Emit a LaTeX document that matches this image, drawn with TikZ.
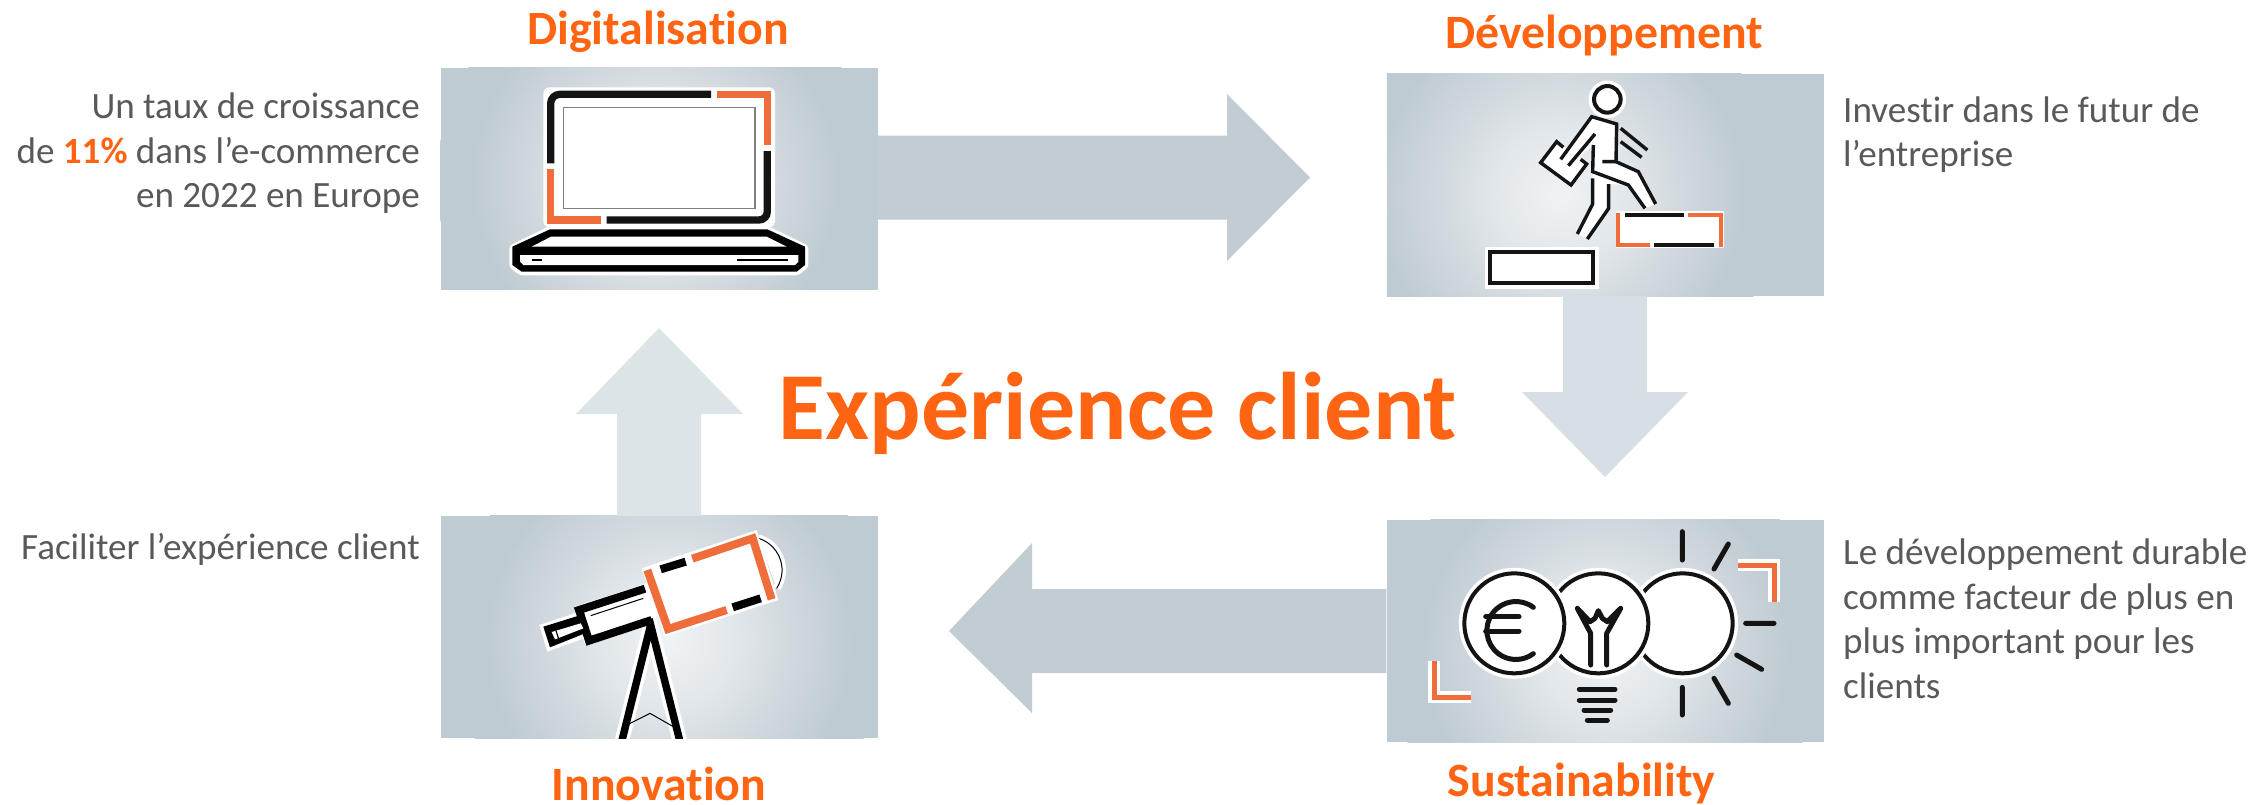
\documentclass[tikz,border=0pt]{standalone}
\usepackage{fontspec}
\setmainfont[Ligatures=NoCommon]{Carlito}
\definecolor{hot}{HTML}{FF6413}
\definecolor{body}{HTML}{595959}
\definecolor{ink}{HTML}{141414}
\definecolor{accent}{HTML}{EE6D3A}
\definecolor{arrowdark}{HTML}{C1CDD3}
\definecolor{arrowmid}{HTML}{D6DFE4}
\definecolor{arrowlight}{HTML}{DDE4E8}
\definecolor{boxin}{HTML}{F0F3F5}
\definecolor{boxa}{HTML}{E2E7EB}
\definecolor{boxb}{HTML}{D1D9DE}
\definecolor{boxout}{HTML}{BFCBD2}
\pgfdeclareradialshading{boxshade}{\pgfpoint{0bp}{0bp}}{color(0bp)=(boxin); color(7.5bp)=(boxa); color(14bp)=(boxb); color(21bp)=(boxout); color(50bp)=(boxout)}
\newcommand\photolight[3]{\begin{scope}\clip (#1.south west) rectangle (#1.north east);\shade[shading=boxshade] ([xshift=#2pt,yshift=#3pt]#1.center) circle[radius=218pt];\end{scope}}
\tikzset{
  photo/.style={shape=rectangle,fill=boxout,inner sep=0pt,minimum width=437pt,minimum height=222pt},
  halo/.style={preaction={draw=white,line width=\pgflinewidth+3.5pt}},
  inkline/.style={draw=ink,line width=4pt,line join=miter},
  ornline/.style={draw=accent,line width=4pt,line join=miter},
  title/.style={inner sep=0pt,anchor=base,text=hot,font=\fontsize{47.8}{52}\selectfont\bfseries},
  note/.style={inner sep=0pt,text=body,font=\fontsize{37.1}{44.5}\selectfont},
}
\begin{document}
\begin{tikzpicture}[x=1pt,y=-1pt]
\useasboundingbox (0,0) rectangle (2254,804);
% boxes
\node[photo] (dig) at (659,178.5) {};
\node[photo] (dev) at (1605.5,185) {};
\node[photo] (inn) at (659,627) {};
\node[photo] (sus) at (1605,631) {};
\photolight{dig}{-4}{-2}
\photolight{dev}{-45}{-10}
\photolight{inn}{10}{-13}
\photolight{sus}{0}{-19}
% free ends of the block arrows
\coordinate (tipR) at (1310,177.5);
\coordinate (tipD) at (1605,477);
\coordinate (tipL) at (949,631);
\coordinate (tipU) at (659,328);
% arrows
\fill[arrowdark] ([yshift=43pt]dig.east) -- (1227,135.5) -- (1227,94) -- (tipR) -- (1227,261) -- (1227,219.5) -- ([yshift=-41pt]dig.east) -- cycle;
\fill[arrowmid] ([xshift=-42.5pt]dev.south) -- (1563,392) -- (1522,392) -- (tipD) -- (1688,392) -- (1647,392) -- ([xshift=41.5pt]dev.south) -- cycle;
\fill[arrowdark] ([yshift=42pt]sus.west) -- (1032,589) -- (1032,543) -- (tipL) -- (1032,713) -- (1032,673) -- ([yshift=-42pt]sus.west) -- cycle;
\fill[arrowlight] ([xshift=-42pt]inn.north) -- (617,414) -- (576,414) -- (tipU) -- (743,414) -- (701,414) -- ([xshift=42pt]inn.north) -- cycle;
% laptop
\begin{scope}[shift={(480,70)},x=0.33333pt,y=-0.33333pt]
 \fill[white,rounded corners=6pt] (190,52) rectangle (885,472);
 \fill[white,rounded corners=3pt] (205,470) -- (868,470) -- (985,527) -- (985,592) -- (955,616) -- (120,616) -- (88,592) -- (88,527) -- cycle;
 \draw[ink,line width=7.3pt] (212,280) -- (212,100) to[out=90,in=180] (240,73) -- (693,73);
 \draw[accent,line width=7.3pt,line join=miter] (710,73) -- (862,73) -- (862,226);
 \draw[ink,line width=7.3pt] (862,243) -- (862,425) to[out=-90,in=0] (837,450) -- (380,450);
 \draw[accent,line width=7.3pt,line join=miter] (212,297) -- (212,450) -- (363,450);
 \draw[draw=black!50,fill=white,line width=1.2pt] (251,113) rectangle (825,416);
 \fill[black] (210,478) -- (862,478) -- (975,530) -- (975,585) -- (950,605) -- (125,605) -- (97,585) -- (97,530) -- cycle;
 \fill[white] (213,500) -- (860,500) -- (920,530) -- (155,530) -- cycle;
 \fill[white] (120,555) -- (955,555) -- (955,575) -- (945,585) -- (130,585) -- (120,575) -- cycle;
 \draw[black,line width=1.3pt] (155,570) -- (185,570) (772,570) -- (925,570);
\end{scope}
% person on steps
\begin{scope}[shift={(1370,0)},x=0.33333pt,y=-0.33333pt]
 \fill[white] (665,350) -- (740,372) -- (738,485) -- (805,515) -- (857,612) -- (825,625) -- (775,555) -- (716,552) -- (716,625) -- (652,717) -- (622,702) -- (668,612) -- (668,515) -- (670,435) -- (595,497) -- (572,478) -- cycle;
 \fill[white] (560,425) -- (512,488) -- (603,555) -- (650,490) -- cycle;
 \draw[inkline,fill=white,halo] (712,298) circle[radius=13.3pt];
 \draw[inkline,line width=3.4pt] (572,478) -- (665,350) -- (740,372) -- (738,485) -- (697,485);
 \draw[inkline,line width=3.4pt] (738,485) -- (805,515) -- (857,612);
 \draw[inkline,line width=3.4pt] (670,435) -- (668,515) -- (775,555) -- (825,625);
 \draw[inkline,line width=3.4pt] (675,402) -- (595,497);
 \draw[inkline,line width=3.4pt] (752,385) -- (832,450) (752,425) -- (815,472);
 \draw[inkline,line width=3.4pt] (668,535) -- (668,612) -- (622,702);
 \draw[inkline,line width=3.4pt] (716,552) -- (716,625) -- (652,717);
 \draw[inkline,line width=3.4pt] (580,442) -- (560,425) -- (512,488) -- (603,555) -- (650,492) -- (632,478);
 \draw[inkline,fill=white,halo] (360,757) rectangle (670,850);
 \fill[white] (737,632) rectangle (1062,745);
 \draw[inkline,line width=3.6pt] (765,645) -- (943,645) (852,735) -- (1033,735);
 \draw[ornline] (955,645) -- (1052,645) -- (1052,742);
 \draw[ornline] (743,638) -- (743,735) -- (840,735);
\end{scope}
% telescope
\begin{scope}
 \clip (inn.south west) rectangle (inn.north east);
 \begin{scope}[shift={(430,500)},x=0.33333pt,y=-0.33333pt]
 \draw[black,line width=7.5pt,line cap=butt,halo] (575,725) -- (662,375) -- (750,725);
 \draw[black,line width=1pt] (600,670) -- (660,640) -- (730,680);
 \draw[black,fill=white,line width=1pt,halo] (985,115) .. controls (1040,130) and (1080,200) .. (1040,265);
 \fill[white] (635,205) -- (980,90) -- (1045,300) -- (705,410) -- cycle;
 \fill[white] (433,320) -- (650,250) -- (690,345) -- (465,435) -- cycle;
 \fill[white] (328,375) -- (450,335) -- (475,410) -- (352,455) -- cycle;
 \draw[black,line width=8pt,line join=miter] (645,266) -- (447,330) -- (477,422) -- (665,360);
 \draw[black,line width=1pt] (482,347) -- (640,295);
 \fill[black] (340,380) -- (443,348) -- (465,400) -- (360,442) -- cycle;
 \fill[white] (365,396) -- (452,370) -- (460,385) -- (375,418) -- cycle;
 \draw[black,line width=1.2pt] (378,392) -- (386,416);
 \draw[accent,line width=8pt,line join=miter] (652,210) -- (714,387) -- (890,330);
 \draw[accent,line width=8pt,line join=miter] (787,176) -- (968,115) -- (1025,298);
 \draw[black,line width=8pt] (692,208) -- (767,185) (908,322) -- (992,295);
 \end{scope}
\end{scope}
% sustainability icon
\begin{scope}[shift={(1370,500)},x=0.33333pt,y=-0.33333pt]
 \draw[inkline,fill=white,halo] (938,370) circle[radius=50pt];
 \draw[inkline,fill=white,halo] (685,370) circle[radius=50pt];
 \draw[inkline,fill=white,halo] (433,370) circle[radius=50pt];
 \draw[inkline,line width=5pt,line cap=round] (490,322) arc[start angle=53,end angle=307,radius=29pt];
 \draw[inkline,line width=5pt,line cap=round] (347,350) -- (447,350) (347,393) -- (447,393);
 \draw[inkline,line width=5pt,line cap=round,line join=round] (662,495) -- (662,400) -- (622,325) -- (660,365) -- (675,355) -- (685,332) -- (697,355) -- (712,365) -- (752,325) -- (710,400) -- (710,495);
 \draw[inkline,line width=5pt,line cap=round] (628,568) -- (735,568) (628,600) -- (735,600) (642,630) -- (722,630) (652,660) -- (712,660);
 \draw[inkline,line width=5pt,line cap=round] (937,95) -- (937,180) (1075,132) -- (1032,207) (1127,370) -- (1212,370) (1100,465) -- (1175,508) (1032,535) -- (1075,610) (937,562) -- (937,645);
 \draw[ornline,halo,line width=5pt] (1105,195) -- (1213,195) -- (1213,305);
 \draw[ornline,halo,line width=5pt] (192,482) -- (192,592) -- (302,592);
\end{scope}
% texts
\node[title] (tdig) at (658,44) {Digitalisation};
\node[title] (tdev) at (1604,48) {Développement};
\node[title] (tinn) at (659,800) {Innovation};
\node[title] (tsus) at (1581.5,796) {Sustainability};
\node[inner sep=0pt,anchor=base,text=hot,font=\fontsize{96}{100}\selectfont\bfseries] (main) at (1118,439) {Expérience client};
\node[note,align=right,anchor=north east] (n1) at (420,93) {Un taux de croissance\\de {\bfseries\textcolor{hot}{11\%}} dans l’e-commerce\\en 2022 en Europe};
\node[note,align=left,anchor=north west] (n2) at (1843,96.5) {Investir dans le futur de\\l’entreprise};
\node[note,align=left,anchor=north west] (n3) at (1843,539) {Le développement durable\\comme facteur de plus en\\plus important pour les\\clients};
\node[note,anchor=base east] (n4) at (420,559) {Faciliter l’expérience client};
\end{tikzpicture}
\end{document}
